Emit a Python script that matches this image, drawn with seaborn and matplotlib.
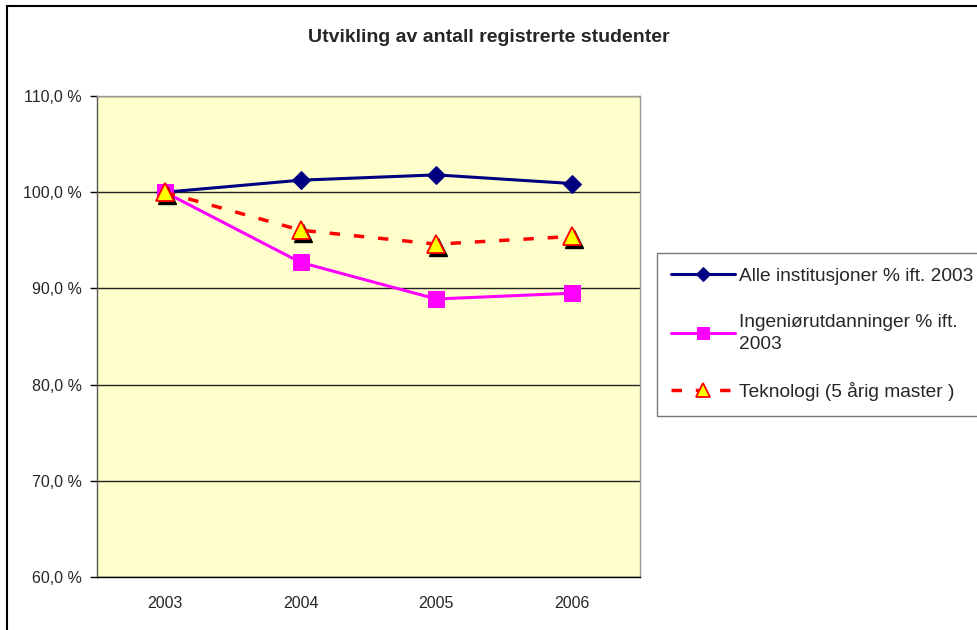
import pandas as pd
import matplotlib.pyplot as plt
import matplotlib.patches as mpatches
from matplotlib.transforms import offset_copy
import seaborn as sns

# data (percent relative to 2003)
years = ["2003", "2004", "2005", "2006"]
alle = [100.0, 101.25, 101.8, 100.9]
ingenior = [100.0, 92.7, 88.9, 89.5]
teknologi = [100.0, 96.05, 94.6, 95.4]

labels = ["Alle institusjoner % ift. 2003",
          "Ingeniørutdanninger % ift.\n2003",
          "Teknologi (5 årig master )"]

sns.set_style("white")
plt.rcParams['font.family'] = ['Liberation Sans', 'DejaVu Sans']

fig = plt.figure(figsize=(9.78, 6.3), dpi=100)
ax = fig.add_axes([97 / 978, 1 - 577 / 630, 543 / 978, 481 / 630])
ax.set_facecolor("#FFFFCC")

# outer chart frame
fig.patches.append(mpatches.Rectangle((7 / 978, -0.1), 1.2, 1 - 6 / 630 + 0.1,
                                      transform=fig.transFigure, fill=False,
                                      edgecolor="black", linewidth=1.5))

df = pd.DataFrame({"year": years, "alle": alle, "ing": ingenior, "tek": teknologi})

sns.lineplot(data=df, x="year", y="alle", ax=ax, color="#000080", linewidth=2.2,
             marker="D", markersize=9, markeredgecolor="#000080", label=labels[0])
sns.lineplot(data=df, x="year", y="ing", ax=ax, color="#FF00FF", linewidth=2.2,
             marker="s", markersize=11, markeredgecolor="#FF00FF", label=labels[1])

# shadow for the triangles
shadow = offset_copy(ax.transData, fig=fig, x=2, y=-2.5, units="dots")
ax.plot(years, teknologi, linestyle="none", marker="^", markersize=13,
        color="black", transform=shadow, zorder=3)
sns.lineplot(data=df, x="year", y="tek", ax=ax, color="#FF0000", linewidth=2.5,
             linestyle=(0, (3, 4)), marker="^", markersize=13,
             markerfacecolor="#FFFF00", markeredgecolor="#FF0000",
             markeredgewidth=1.3, label=labels[2], zorder=4)

ax.set_xlim(-0.5, 3.5)
ax.set_ylim(60, 110)
ax.set_yticks([60, 70, 80, 90, 100, 110])
ax.set_yticklabels([f"{v:.1f} %".replace(".", ",") for v in [60, 70, 80, 90, 100, 110]])
ax.yaxis.grid(True, color="#222222", linewidth=1)
ax.set_axisbelow(True)

ax.set_xticks(range(len(years)))
ax.set_xticklabels(years)
ax.set_xticks([-0.5, 0.5, 1.5, 2.5, 3.5], minor=True)
ax.tick_params(axis="x", which="major", length=0, pad=14, labelsize=11.5)
ax.tick_params(axis="x", which="minor", length=5, width=1, color="black", direction="out")
ax.tick_params(axis="y", length=5, width=1, color="black", direction="out",
               labelsize=11.5, left=True, pad=6)
ax.set_xlabel("")
ax.set_ylabel("")

ax.spines["left"].set_color("#555555")
ax.spines["bottom"].set_color("black")
ax.spines["top"].set_color("#999999")
ax.spines["right"].set_color("#999999")
for s in ax.spines.values():
    s.set_linewidth(1)

fig.text(0.5, 1 - 37 / 630, "Utvikling av antall registrerte studenter",
         ha="center", va="center", fontsize=14, fontweight="bold")

leg = ax.legend(loc="upper left", bbox_to_anchor=(657 / 978, 1 - 253 / 630),
                bbox_transform=fig.transFigure, frameon=True, fancybox=False,
                edgecolor="#555555", fontsize=13.8, handlelength=3.3,
                labelspacing=1.5, borderpad=0.75, handletextpad=0.25,
                borderaxespad=0, markerscale=0.8)
leg.get_frame().set_linewidth(1)
for t in leg.get_texts():
    t.set_linespacing(1.45)

fig.savefig("out.png", dpi=100)
